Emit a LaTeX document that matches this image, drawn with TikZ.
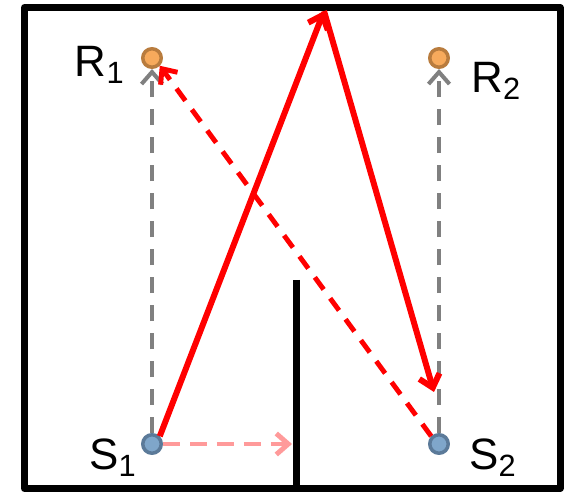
\documentclass[tikz,border=0pt]{standalone}
\usepackage{fontspec}
\setmainfont{Liberation Sans}
\usetikzlibrary{arrows.meta}

\definecolor{srcfill}{HTML}{7FA6CA}
\definecolor{srcline}{HTML}{5B7A99}
\definecolor{rcvfill}{HTML}{F7AA5C}
\definecolor{rcvline}{HTML}{B97C3E}
\definecolor{direct}{HTML}{808080}
\definecolor{blocked}{HTML}{FF9A9A}

\tikzset{
  src/.style={circle, draw=srcline, fill=srcfill, line width=2pt, inner sep=0pt, minimum size=0.37cm},
  rcv/.style={circle, draw=rcvline, fill=rcvfill, line width=2pt, inner sep=0pt, minimum size=0.37cm},
  lbl/.style={font=\fontsize{25}{30}\selectfont, inner sep=0pt},
  tip/.style={-{Straight Barb[length=0.24cm, width=0.42cm]}},
  gray ray/.style={direct, line width=2.3pt, dash pattern=on 0.32cm off 0.24cm, tip},
  red ray/.style={red, line width=2.8pt, dash pattern=on 0.3cm off 0.22cm, tip},
}

\begin{document}
\begin{tikzpicture}[x=0.02cm, y=-0.02cm, line join=round]
\useasboundingbox (0,0) rectangle (571,492);

% room and wall
\draw[line width=0.14cm] (24.5,7.5) rectangle (560,488.5);
\coordinate (wall_top) at (296.5,280);
\coordinate (wall_bot) at (296.5,488);
\draw[line width=0.14cm] (wall_top) -- (wall_bot);

% sources and receivers
\node[src, name=s1] at (152,444) {};
\node[src, name=s2] at (439,444) {};
\node[rcv, name=r1] at (152,58) {};
\node[rcv, name=r2] at (439,58) {};
\node[lbl, anchor=base east] at (125,77) {R\textsubscript{1}};
\node[lbl, anchor=base west] at (471,93) {R\textsubscript{2}};
\node[lbl, anchor=base east] at (137,470) {S\textsubscript{1}};
\node[lbl, anchor=base west] at (469,470) {S\textsubscript{2}};

\coordinate (ceil_hit) at (324,11);
\coordinate (s2_end) at (434,392);
\coordinate (wall_hit) at (292,444);

\draw[gray ray] (s1.north) -- (r1.south);
\draw[gray ray] (s2.north) -- (r2.south);
\draw[gray ray, blocked, line width=2.8pt, dash pattern=on 0.34cm off 0.2cm] (s1.east) -- (wall_hit);
\draw[red ray] (s2.north west) -- (r1.south east);
\draw[red, line width=3.4pt, tip] (s1.north east) -- (ceil_hit);
\draw[red, line width=3.4pt, tip] (ceil_hit) -- (s2_end);

\end{tikzpicture}
\end{document}
